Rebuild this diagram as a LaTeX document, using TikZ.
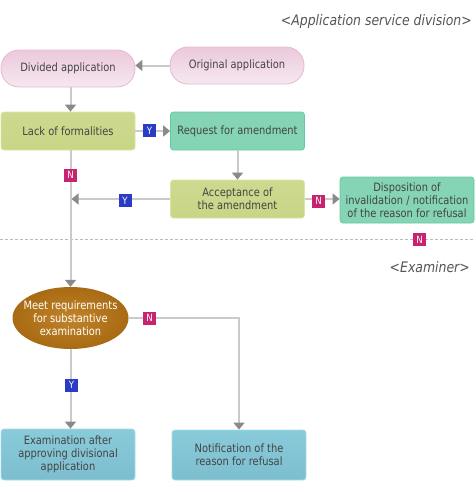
\documentclass[tikz,border=0pt]{standalone}
\usepackage{fontspec}
\setmainfont{DejaVu Sans}[FakeStretch=0.86]
\usetikzlibrary{arrows.meta,shapes.geometric}
\definecolor{txt}{HTML}{444444}
\definecolor{linegray}{HTML}{CACACA}
\definecolor{tipgray}{HTML}{8A8A8A}
\definecolor{pinktop}{HTML}{EBC9DC}
\definecolor{pinkbot}{HTML}{F6E8F0}
\definecolor{pinkdraw}{HTML}{E6B8CE}
\definecolor{limefill}{HTML}{C9D586}
\definecolor{limetop}{HTML}{CDD98F}
\definecolor{limedraw}{HTML}{DCE5A2}
\definecolor{tealfill}{HTML}{85D4B5}
\definecolor{tealdraw}{HTML}{63CC9C}
\definecolor{bluetop}{HTML}{8ACBDA}
\definecolor{bluebot}{HTML}{7CBECE}
\definecolor{bluedraw}{HTML}{A6DBE9}
\definecolor{brownin}{HTML}{C2842A}
\definecolor{brownout}{HTML}{A86A12}
\definecolor{ylab}{HTML}{2A3CC4}
\definecolor{nlab}{HTML}{C8236F}
\definecolor{hdr}{HTML}{555555}
\definecolor{sepgray}{HTML}{BBBBBB}
\tikzset{
  boxbase/.style={rectangle, minimum width=134pt, text=txt, align=center,
    font=\fontsize{11.5}{13}\selectfont, inner sep=1pt, line width=0.8pt},
  pill/.style={boxbase, rounded corners=18pt, minimum height=37pt,
    top color=pinktop, bottom color=pinkbot, draw=pinkdraw},
  limebox/.style={boxbase, rounded corners=3pt, minimum height=38pt,
    top color=limetop, bottom color=limefill, draw=limedraw},
  tealbox/.style={boxbase, rounded corners=3pt, minimum height=38pt,
    fill=tealfill, draw=tealdraw},
  bluebox/.style={boxbase, rounded corners=3pt, minimum height=50pt,
    top color=bluetop, bottom color=bluebot, draw=bluedraw},
  conn/.style={draw=linegray, line width=2pt,
    -{Triangle[length=7pt,width=11pt,color=tipgray]}},
  ylabel/.style={rectangle, fill=ylab, minimum size=13pt, inner sep=0pt,
    text=white, font=\fontsize{10}{10}\selectfont},
  nlabel/.style={rectangle, fill=nlab, minimum size=13pt, inner sep=0pt,
    text=white, font=\fontsize{10}{10}\selectfont},
  header/.style={text=hdr, font=\fontsize{14.5}{16}\selectfont\itshape, inner sep=0pt}
}
\begin{document}
\begin{tikzpicture}[x=1pt,y=-1pt]
\useasboundingbox (0,0) rectangle (475,493);
% dashed separator
\draw[draw=sepgray, line width=0.8pt, dash pattern=on 3pt off 2pt] (0,239) -- (475,239);
% headers
\node[header, anchor=east] (h1) at (472,21) {<Application service division>};
\node[header, anchor=east] (h2) at (470,267) {<Examiner>};
% nodes
\node[pill] (div) at (68,68.5) {Divided application};
\node[pill] (orig) at (237,65.5) {Original application};
\node[limebox] (lack) at (68,131) {Lack of formalities};
\node[tealbox] (req) at (237.5,131) {Request for amendment};
\node[limebox] (acc) at (237.5,199) {Acceptance of\\the amendment};
\node[tealbox, minimum height=46pt] (disp) at (407,200) {Disposition of\\invalidation / notification\\of the reason for refusal};
\node[ellipse, minimum width=116pt, minimum height=62pt, inner sep=0pt,
  inner color=brownin, outer color=brownout] (ell) at (70.5,318) {};
\node[text=white, align=center, inner sep=0pt,
  font=\fontsize{11.5}{13}\selectfont] (ellt) at (ell.center) {Meet requirements\\for substantive\\examination};
\node[bluebox, minimum height=51pt] (exam) at (68,454.5) {Examination after\\approving divisional\\application};
\node[bluebox] (note) at (239,455) {Notification of the\\reason for refusal};
% connectors
\draw[conn] (orig.west) -- (orig.west -| div.east);
\draw[conn] (div.south -| ell.north) -- (lack.north -| ell.north);
\draw[conn] (lack.east) -- (lack.east -| req.west);
\draw[conn] (req.south) -- (acc.north);
\draw[conn] (acc.east) -- (acc.east -| disp.west);
\draw[conn, shorten >=1pt] (acc.west) -- (acc.west -| ell.north);
\draw[conn] (lack.south -| ell.north) -- (ell.north);
\draw[conn] (ell.south) -- (exam.north -| ell.south);
\draw[conn] (ell.east) -| (note.north);
% labels
\node[ylabel] (y1) at (149.5,130.5) {Y};
\node[nlabel] (n1) at (70.5,175) {N};
\node[ylabel] (y2) at (125,200.5) {Y};
\node[nlabel] (n2) at (318.5,201) {N};
\node[nlabel] (n3) at (419.5,239.5) {N};
\node[nlabel] (n4) at (149.5,318) {N};
\node[ylabel] (y3) at (71.5,385) {Y};
\end{tikzpicture}
\end{document}
